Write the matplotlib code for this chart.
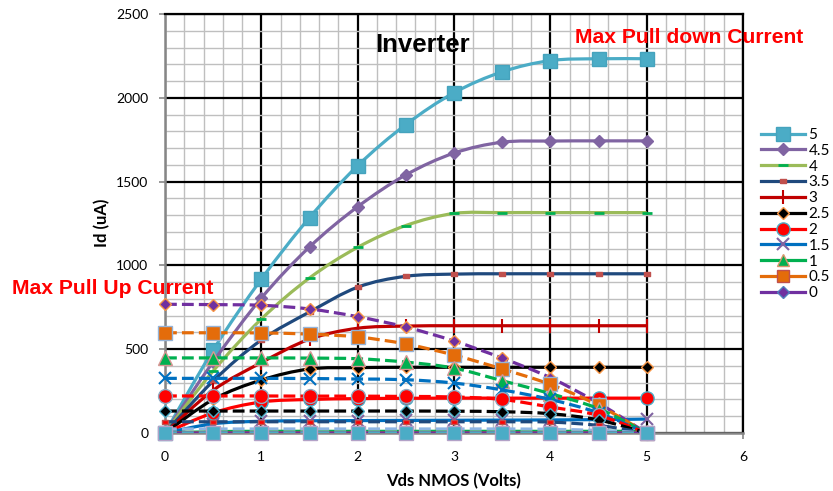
import matplotlib
matplotlib.use("Agg")
import matplotlib.pyplot as plt
from matplotlib.path import Path
from matplotlib.patches import PathPatch
from matplotlib.lines import Line2D
from matplotlib.ticker import MultipleLocator

# ---------------- data ----------------
vds = [0, 0.5, 1, 1.5, 2, 2.5, 3, 3.5, 4, 4.5, 5]

# NMOS Id curves (solid), label = Vgs
nmos_labels = ["5", "4.5", "4", "3.5", "3", "2.5", "2", "1.5", "1", "0.5", "0"]
n5   = [0, 495, 918, 1285, 1595, 1840, 2030, 2155, 2222, 2233, 2233]
n4_5 = [0, 425, 805, 1110, 1350, 1540, 1670, 1735, 1742, 1743, 1743]
n4   = [0, 370, 680, 925, 1108, 1238, 1310, 1315, 1315, 1315, 1315]
n3_5 = [0, 310, 555, 722, 870, 935, 948, 950, 950, 950, 950]
n3   = [0, 255, 420, 560, 625, 638, 640, 640, 640, 640, 640]
n2_5 = [0, 200, 316, 382, 390, 392, 392, 392, 392, 392, 392]
n2   = [0, 120, 185, 200, 205, 207, 208, 208, 208, 208, 208]
n1_5 = [0, 55, 70, 73, 74, 75, 76, 77, 78, 80, 83]
n1   = [0, 8, 10, 10, 10, 10, 10, 10, 10, 10, 10]
n0_5 = [0, 0, 0, 0, 0, 0, 0, 0, 0, 0, 0]
n0   = [0, 0, 0, 0, 0, 0, 0, 0, 0, 0, 0]

# PMOS load curves (dashed), for Vin = 0 ... 5
p0   = [768, 766, 762, 740, 694, 632, 549, 447, 330, 178, 0]
p0_5 = [598, 598, 597, 590, 573, 531, 465, 382, 290, 165, 0]
p1   = [448, 448, 448, 447, 443, 423, 387, 312, 235, 145, 0]
p1_5 = [326, 326, 326, 325, 322, 318, 298, 257, 200, 120, 0]
p2   = [221, 221, 221, 220, 220, 218, 215, 200, 155, 105, 0]
p2_5 = [131, 131, 131, 131, 131, 131, 130, 127, 115, 78, 0]
p3   = [67, 67, 67, 67, 67, 67, 67, 67, 65, 45, 0]
p3_5 = [24, 24, 24, 24, 24, 24, 24, 24, 22, 15, 0]
p4   = [4, 4, 4, 4, 4, 4, 4, 4, 4, 3, 0]
p4_5 = [0, 0, 0, 0, 0, 0, 0, 0, 0, 0, 0]
p5   = [0, 0, 0, 0, 0, 0, 0, 0, 0, 0, 0]

FONT = ["Lato", "DejaVu Sans"]
ARIAL = ["Liberation Sans", "DejaVu Sans"]
plt.rcParams["font.family"] = FONT

RECT = [(-1, -0.45), (1, -0.45), (1, 0.45), (-1, 0.45), (-1, -0.45)]

# style: (line colour, marker, ms, face, edge, mew)
nmos_styles = [
    ("#4BACC6", "s", 10, "#4BACC6", "#45A3BD", 1.0),
    ("#8064A2", "D", 6.5, "#8064A2", "#8064A2", 1.0),
    ("#9BBB59", "_", 7, "#00B050", "#00B050", 2.0),
    ("#1F497D", RECT, 5, "#C0504D", "#C0504D", 1.0),
    ("#C00000", "|", 10, "#C00000", "#C00000", 1.5),
    ("#000000", "D", 6.5, "#000000", "#F79646", 1.0),
    ("#FF0000", "o", 9.5, "#FF0000", "#4BACC6", 1.0),
    ("#0070C0", "x", 8, "#8064A2", "#8064A2", 1.5),
    ("#00B050", "^", 9, "#00B050", "#D9956B", 1.0),
    ("#E46C0A", "s", 8.5, "#E46C0A", "#C0504D", 1.0),
    ("#7030A0", "D", 6.5, "#7030A0", "#4F81BD", 1.0),
]
pmos_styles = [
    ("#7030A0", "D", 6.5, "#7030A0", "#F79646", 1.0),
    ("#E46C0A", "s", 9.5, "#E46C0A", "#95B3D7", 1.0),
    ("#00B050", "^", 9.5, "#00B050", "#D99694", 1.0),
    ("#0070C0", "x", 9, "#0070C0", "#0070C0", 1.5),
    ("#FF0000", "o", 10, "#FF0000", "#8EA9C1", 1.0),
    ("#000000", "D", 6.5, "#000000", "#4BACC6", 1.0),
    ("#1F497D", RECT, 5, "#FF0000", "#C0504D", 1.0),
    ("#8EB4E3", None, 0, None, None, 1.0),
    ("#9BBB59", None, 0, None, None, 1.0),
    ("#7030A0", "s", 3.5, "#7030A0", "#7030A0", 1.0),
    ("#4BACC6", "s", 10, "#4BACC6", "#B3A2C7", 1.0),
]

nmos_series = [n5, n4_5, n4, n3_5, n3, n2_5, n2, n1_5, n1, n0_5, n0]
pmos_series = [p0, p0_5, p1, p1_5, p2, p2_5, p3, p3_5, p4, p4_5, p5]


def smooth_path(xs, ys):
    pts = list(zip(xs, ys))
    n = len(pts)
    verts = [pts[0]]
    codes = [Path.MOVETO]
    for i in range(n - 1):
        p0 = pts[i - 1] if i > 0 else pts[i]
        p1 = pts[i]
        p2 = pts[i + 1]
        p3 = pts[i + 2] if i + 2 < n else pts[i + 1]
        c1 = (p1[0] + (p2[0] - p0[0]) / 6.0, p1[1] + (p2[1] - p0[1]) / 6.0)
        c2 = (p2[0] - (p3[0] - p1[0]) / 6.0, p2[1] - (p3[1] - p1[1]) / 6.0)
        verts += [c1, c2, p2]
        codes += [Path.CURVE4] * 3
    return Path(verts, codes)


W, H = 833, 491
fig = plt.figure(figsize=(W / 100, H / 100), dpi=100)
L, R, B, T = 165, 743, 433, 14
ax = fig.add_axes([L / W, 1 - B / H, (R - L) / W, (B - T) / H])

ax.set_xlim(0, 6)
ax.set_ylim(0, 2500)
ax.xaxis.set_major_locator(MultipleLocator(1))
ax.xaxis.set_minor_locator(MultipleLocator(0.2))
ax.yaxis.set_major_locator(MultipleLocator(500))
ax.yaxis.set_minor_locator(MultipleLocator(100))
ax.set_axisbelow(True)
ax.grid(which="minor", color="#BFBFBF", lw=1.0, zorder=0.4)
ax.grid(which="major", color="#000000", lw=1.6, zorder=0.5)
ax.tick_params(which="minor", length=0)
ax.tick_params(which="major", length=4, color="#868686", width=1.2,
               labelsize=10, labelcolor="#000000")
ax.tick_params(axis="y", pad=8)
ax.tick_params(axis="x", pad=9)
for s in ("left", "bottom"):
    ax.spines[s].set_color("#868686")
    ax.spines[s].set_linewidth(1.8)
for s in ("top", "right"):
    ax.spines[s].set_color("#000000")
    ax.spines[s].set_linewidth(1.6)

LW = 2.3
z = 3.0
handles = []
for ys, (c, m, ms, fc, ec, mew), lab in zip(nmos_series, nmos_styles, nmos_labels):
    ax.add_patch(PathPatch(smooth_path(vds, ys), fill=False, edgecolor=c,
                           lw=LW, zorder=z, capstyle="butt"))
    ax.plot(vds, ys, ls="none", marker=m, ms=ms, mfc=fc, mec=ec, mew=mew,
            zorder=z + 0.005, clip_on=False)
    handles.append(Line2D([], [], color=c, lw=LW, marker=m, ms=ms, mfc=fc,
                          mec=ec, mew=mew, label=lab))
    z += 0.01

for ys, (c, m, ms, fc, ec, mew) in zip(pmos_series, pmos_styles):
    ax.add_patch(PathPatch(smooth_path(vds, ys), fill=False, edgecolor=c,
                           lw=LW, ls="--", zorder=z, capstyle="butt"))
    if m is not None:
        ax.plot(vds, ys, ls="none", marker=m, ms=ms, mfc=fc, mec=ec, mew=mew,
                zorder=z + 0.005, clip_on=False)
    z += 0.01

leg = fig.legend(handles=handles, loc="upper left",
                 bbox_to_anchor=(761 / W, 1 - 128 / H), frameon=False,
                 fontsize=11, handlelength=2.9, handletextpad=0.2,
                 labelspacing=0.12, borderpad=0, borderaxespad=0)

fig.text(454 / W, 1 - 481 / H, "Vds NMOS (Volts)", ha="center", va="center",
         fontsize=12, fontweight="bold")
fig.text(102 / W, 1 - 223 / H, "Id (uA)", ha="center", va="center",
         rotation=90, fontsize=12, fontweight="bold")

fig.text(375 / W, 1 - 52 / H, "Inverter", ha="left", va="baseline",
         fontsize=18.5, fontweight="bold", family=ARIAL)
fig.text(575 / W, 1 - 43 / H, "Max Pull down Current", ha="left",
         va="baseline", fontsize=15.2, fontweight="bold", color="#FF0000",
         family=ARIAL)
fig.text(12 / W, 1 - 294 / H, "Max Pull Up Current", ha="left",
         va="baseline", fontsize=15.2, fontweight="bold", color="#FF0000",
         family=ARIAL)

fig.savefig("out.png", dpi=100)
